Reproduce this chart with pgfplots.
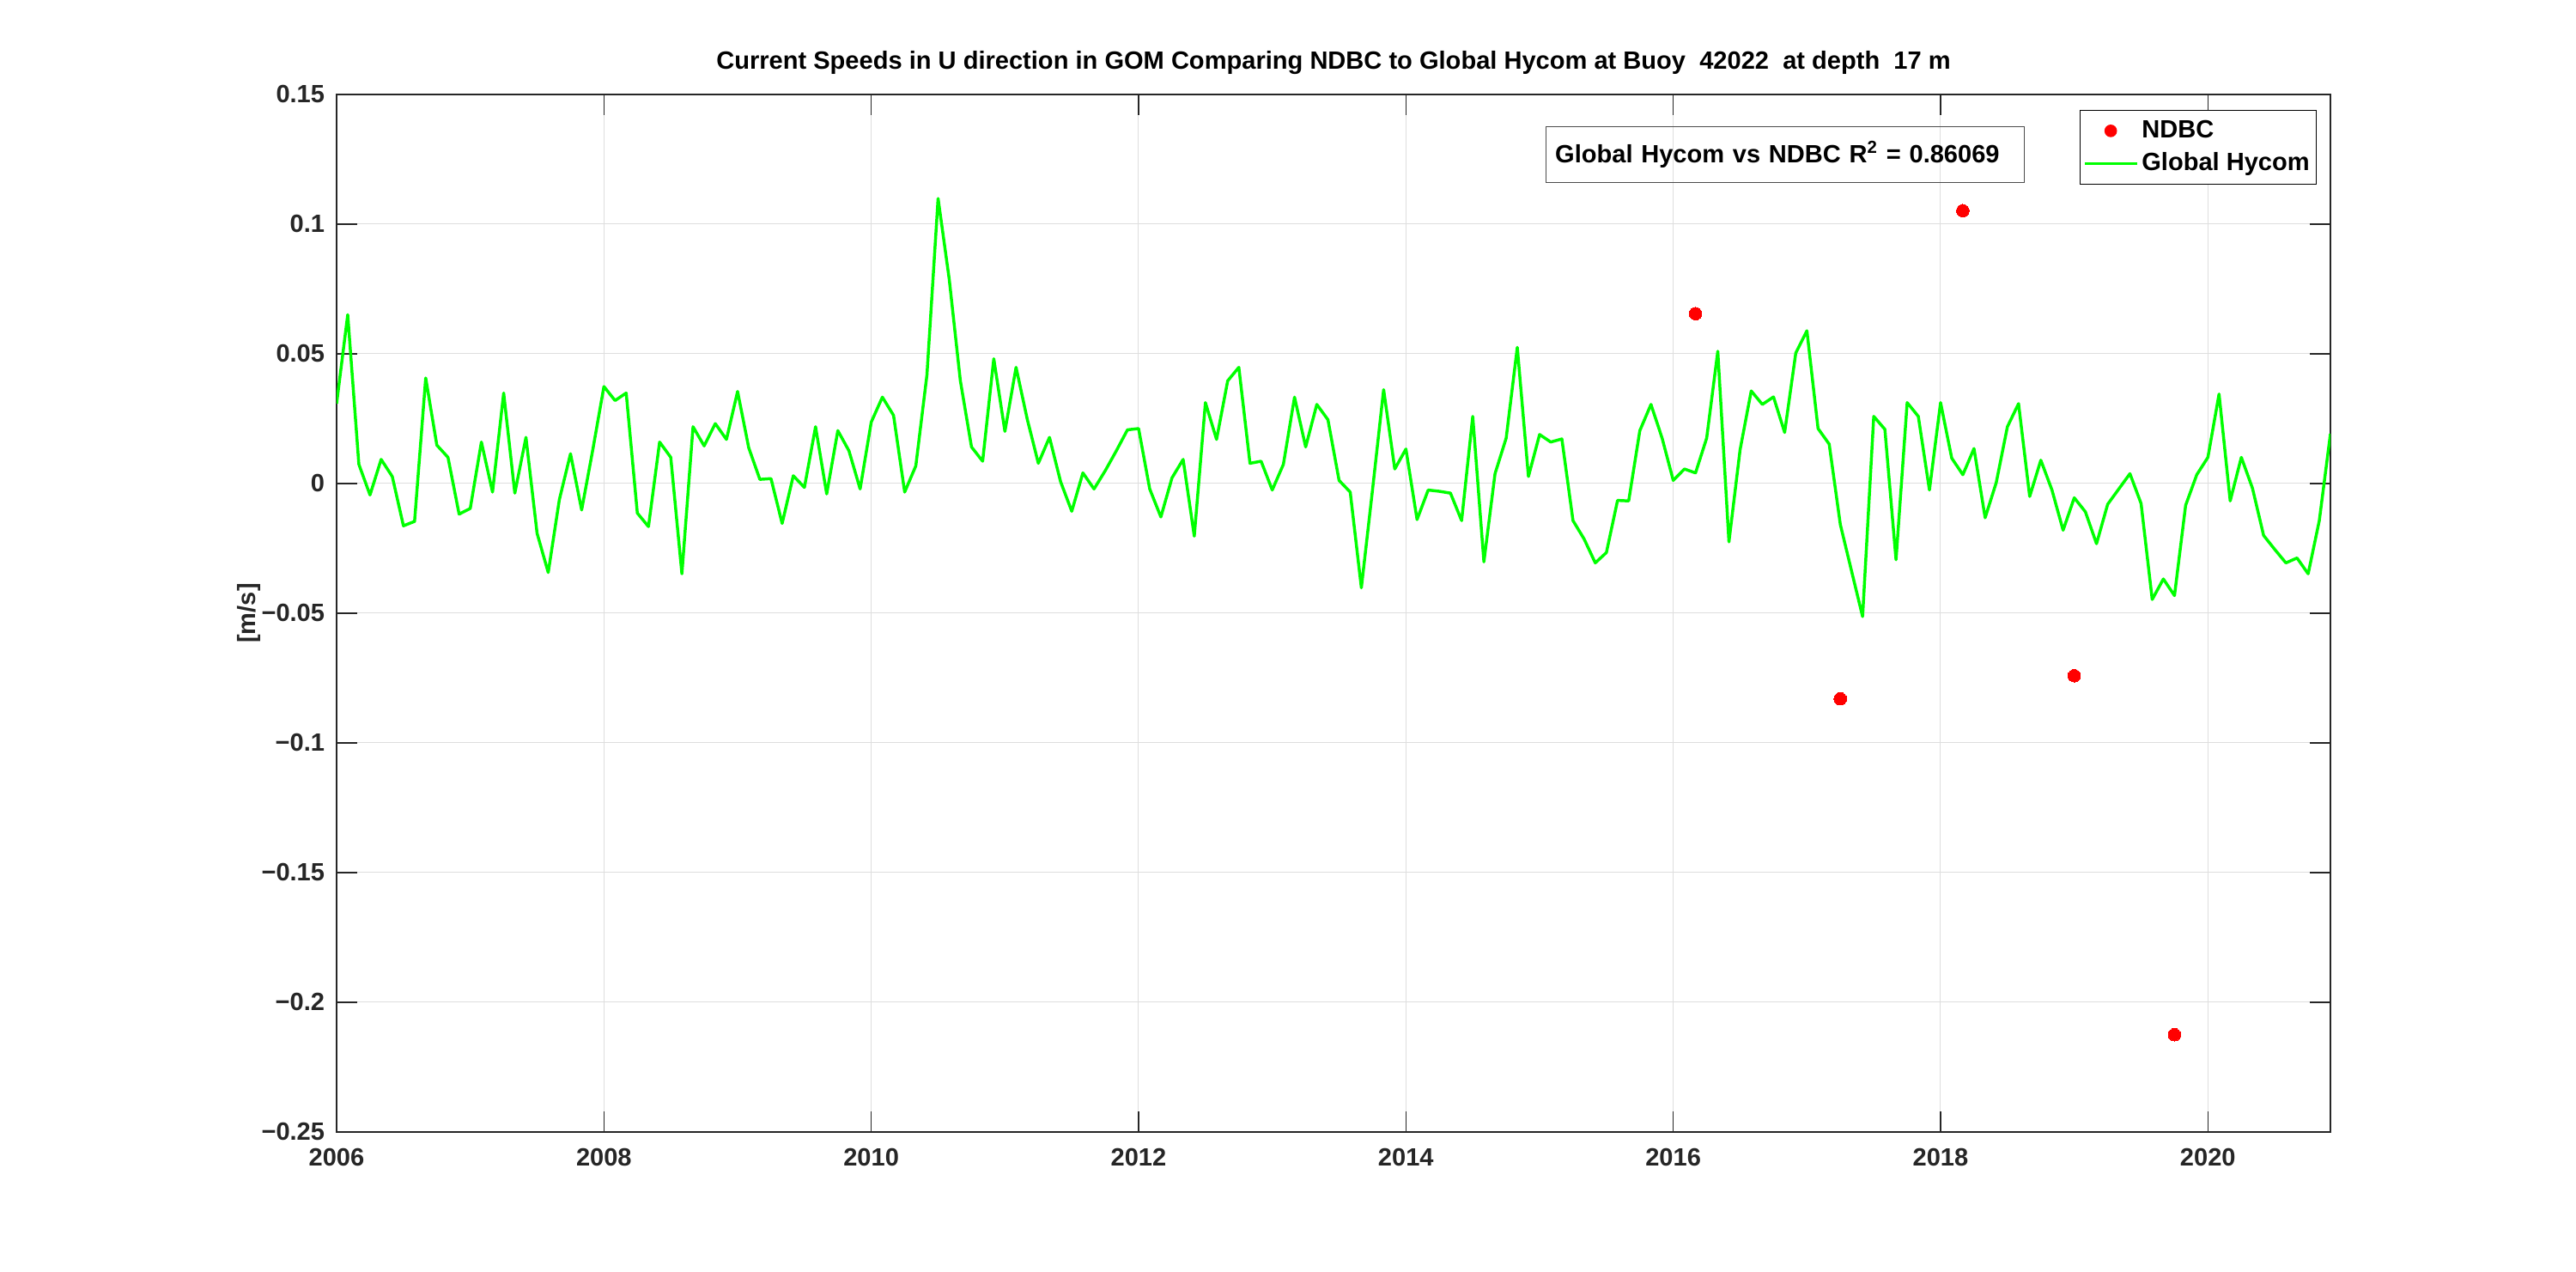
\documentclass[border=0pt]{standalone}
\usepackage{fontspec}
\setmainfont{Liberation Sans}
\usepackage{pgfplots}
\pgfplotsset{compat=1.18}
\usepackage{pgfplotstable}
\definecolor{mgreen}{rgb}{0,1,0}
\definecolor{axgray}{rgb}{0.15,0.15,0.15}
\newcommand{\ff}{\fontsize{10.9bp}{13bp}\selectfont\bfseries}

\pgfplotstableread{
i u
0 0.0308
1 0.0651
2 0.0074
3 -0.0044
4 0.0093
5 0.0027
6 -0.0163
7 -0.0146
8 0.0407
9 0.0148
10 0.0101
11 -0.0118
12 -0.0096
13 0.0160
14 -0.0033
15 0.0349
16 -0.0037
17 0.0178
18 -0.0192
19 -0.0343
20 -0.0062
21 0.0115
22 -0.0102
23 0.0130
24 0.0374
25 0.0320
26 0.0349
27 -0.0114
28 -0.0166
29 0.0160
30 0.0101
31 -0.0348
32 0.0219
33 0.0145
34 0.0231
35 0.0170
36 0.0355
37 0.0138
38 0.0016
39 0.0019
40 -0.0154
41 0.0030
42 -0.0015
43 0.0219
44 -0.0040
45 0.0204
46 0.0126
47 -0.0021
48 0.0237
49 0.0333
50 0.0263
51 -0.0033
52 0.0068
53 0.0419
54 0.1099
55 0.0788
56 0.0396
57 0.0141
58 0.0086
59 0.0481
60 0.0201
61 0.0448
62 0.0249
63 0.0078
64 0.0178
65 0.0007
66 -0.0107
67 0.0041
68 -0.0021
69 0.0049
70 0.0126
71 0.0207
72 0.0212
73 -0.0021
74 -0.0129
75 0.0022
76 0.0093
77 -0.0203
78 0.0312
79 0.0170
80 0.0396
81 0.0448
82 0.0078
83 0.0086
84 -0.0025
85 0.0074
86 0.0333
87 0.0141
88 0.0305
89 0.0246
90 0.0012
91 -0.0033
92 -0.0402
93 -0.0025
94 0.0362
95 0.0056
96 0.0133
97 -0.0139
98 -0.0025
99 -0.0030
100 -0.0037
101 -0.0143
102 0.0259
103 -0.0302
104 0.0038
105 0.0175
106 0.0525
107 0.0027
108 0.0189
109 0.0160
110 0.0172
111 -0.0143
112 -0.0214
113 -0.0306
114 -0.0266
115 -0.0065
116 -0.0067
117 0.0204
118 0.0305
119 0.0175
120 0.0012
121 0.0056
122 0.0041
123 0.0175
124 0.0510
125 -0.0225
126 0.0130
127 0.0357
128 0.0305
129 0.0334
130 0.0197
131 0.0503
132 0.0589
133 0.0212
134 0.0152
135 -0.0158
136 -0.0336
137 -0.0513
138 0.0259
139 0.0209
140 -0.0294
141 0.0312
142 0.0259
143 -0.0025
144 0.0312
145 0.0098
146 0.0034
147 0.0135
148 -0.0132
149 0.0004
150 0.0219
151 0.0308
152 -0.0050
153 0.0090
154 -0.0025
155 -0.0180
156 -0.0055
157 -0.0109
158 -0.0232
159 -0.0080
160 -0.0021
161 0.0038
162 -0.0077
163 -0.0447
164 -0.0368
165 -0.0432
166 -0.0084
167 0.0034
168 0.0101
169 0.0345
170 -0.0067
171 0.0101
172 -0.0018
173 -0.0200
174 -0.0254
175 -0.0306
176 -0.0287
177 -0.0348
178 -0.0143
179 0.0192
}\hycom

\pgfplotstableread{
i u
122 0.0655
135 -0.0830
146 0.1052
156 -0.0741
165 -0.2125
}\ndbc

\begin{document}
\begin{tikzpicture}
\useasboundingbox (-147bp,-61.125bp) rectangle (978bp,494.25bp);
\begin{axis}[
  at={(0,0)}, anchor=south west,
  scale only axis, width=870.75bp, height=453bp,
  xmin=0, xmax=179, ymin=-0.25, ymax=0.15,
  xtick={0,24,48,72,96,120,144,168},
  xticklabels={2006,2008,2010,2012,2014,2016,2018,2020},
  ytick={-0.25,-0.2,-0.15,-0.1,-0.05,0,0.05,0.1,0.15},
  yticklabels={−0.25,−0.2,−0.15,−0.1,−0.05,0,0.05,0.1,0.15},
  tick align=inside, tick pos=both, major tick length=9bp,
  grid=major, major grid style={draw=black!13, line width=0.375bp},
  axis line style={draw=axgray, line width=0.5bp},
  every tick/.style={draw=axgray, line width=0.5bp},
  tick label style={font=\ff, text=axgray},
  xticklabel style={yshift=-3.5bp},
  yticklabel style={xshift=-1.7bp},
  title={Current Speeds in U direction in GOM Comparing NDBC to Global Hycom at Buoy\ \ 42022\ \ at depth\ \ 17 m},
  title style={font=\ff, at={(axis description cs:0.5,1)}, anchor=base, yshift=4.9bp, inner sep=0pt},
  ylabel={[m/s]},
  ylabel style={font=\ff, text=axgray, at={(axis description cs:-0.0439,0.5)}, anchor=center},
  legend style={at={(axis description cs:0.9931,0.9851)}, anchor=north east,
    draw=black, line width=0.4bp, fill=white, font=\ff,
    inner xsep=1.4bp, inner ysep=2.4bp,
    nodes={inner xsep=1.5bp, inner ysep=2bp, text depth=0.15em},
    row sep=0.95bp},
  legend cell align=left,
]
\addplot[only marks, draw=none, mark=*, mark size=2.75bp, mark options={draw=red, fill=red, line width=0pt},
  legend image code/.code={\fill[red] (11.4bp,0bp) circle (2.75bp);}]
  table[x=i, y=u] {\ndbc};
\addlegendentry{NDBC}
\addplot[draw=mgreen, line width=1.3bp, line join=round,
  legend image code/.code={\draw[mgreen, line width=1.3bp] (0bp,0bp) -- (22.8bp,0bp);}]
  table[x=i, y=u] {\hycom};
\addlegendentry{Global Hycom}
\node[draw=black!70, line width=0.5bp, anchor=west, inner xsep=4.1bp, inner ysep=0pt,
  minimum height=24.4bp, text width=200.8bp, align=left, font=\ff]
  at (axis description cs:0.6062,0.9419) {Global Hycom vs NDBC R\textsuperscript{2} = 0.86069};
\end{axis}
\end{tikzpicture}
\end{document}
